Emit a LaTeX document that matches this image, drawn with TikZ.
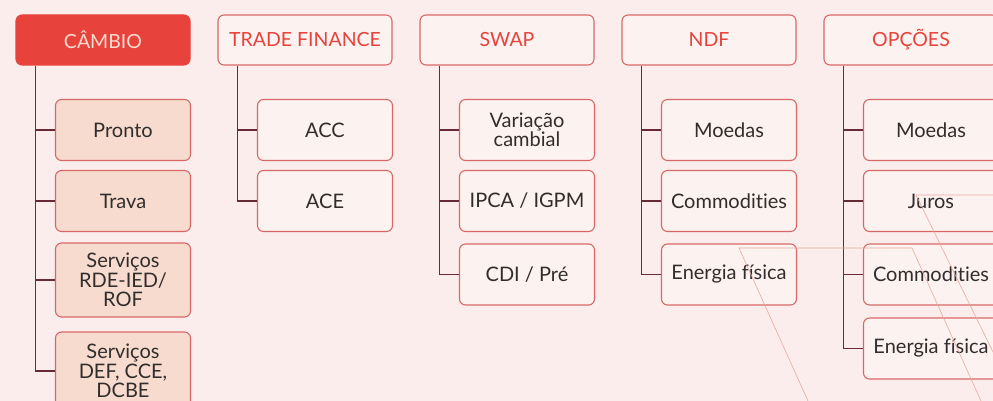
\documentclass[tikz,border=0pt]{standalone}
\usepackage{fontspec}
\setmainfont[Ligatures=NoCommon]{Lato}
\usetikzlibrary{positioning}

\definecolor{bgpink}{RGB}{250,237,235}
\definecolor{boxfill}{RGB}{252,242,240}
\definecolor{peach}{RGB}{247,219,206}
\definecolor{headred}{RGB}{232,66,60}
\definecolor{boxline}{RGB}{216,104,104}
\definecolor{trunkcol}{RGB}{104,42,52}
\definecolor{decocol}{RGB}{232,170,158}
\definecolor{textdark}{RGB}{50,45,45}
\definecolor{lighttext}{RGB}{252,220,205}

\begin{document}
\begin{tikzpicture}[x=1pt, y=1pt, node distance = 202pt, on grid,
  head/.style  = {draw=boxline, line width=1.1pt, rounded corners=6pt, fill=boxfill,
                  text=headred, minimum width=174pt, minimum height=50pt,
                  font=\fontsize{19.5}{21}\selectfont},
  leaf/.style  = {draw=boxline, line width=1.1pt, rounded corners=6pt, fill=boxfill,
                  text=textdark, minimum width=135pt, minimum height=61pt, align=center,
                  inner sep=2pt, font=\fontsize{20}{19.5}\selectfont},
  peachleaf/.style = {leaf, fill=peach},
  trunk/.style = {draw=trunkcol, line width=1.6pt},
  deco/.style  = {draw=decocol, line width=0.6pt}]

  % Canvas
  \fill[bgpink] (0,0) rectangle (993,-401);
  \useasboundingbox (0,0) rectangle (993,-401);

  % Header row
  \node[head, fill=headred, draw=headred, text=lighttext] (cambio) at (103,-40) {CÂMBIO};
  \node[head] (trade)  [right=of cambio] {TRADE FINANCE};
  \node[head] (swap)   [right=of trade]  {SWAP};
  \node[head] (ndf)    [right=of swap]   {NDF};
  \node[head] (opcoes) [right=of ndf]    {OPÇÕES};

  % Câmbio
  \node[peachleaf] (pronto) [below right=90pt and 20pt of cambio] {Pronto};
  \node[peachleaf] (trava)  [below=71pt of pronto] {Trava};
  \node[peachleaf, minimum height=74pt] (rdeied) [below=79pt of trava] {Serviços\\RDE-IED/\\ROF};
  \node[peachleaf, minimum height=78pt] (defcce) [below=91pt of rdeied] {Serviços\\DEF, CCE,\\DCBE};

  % Trade finance
  \node[leaf] (acc) [below right=90pt and 20pt of trade] {ACC};
  \node[leaf] (ace) [below=71pt of acc] {ACE};

  % Swap
  \node[leaf] (varcamb) [below right=90pt and 20pt of swap] {Variação\\cambial};
  \node[leaf] (ipca)    [below=71pt of varcamb] {IPCA / IGPM};
  \node[leaf] (cdipre)  [below=73.5pt of ipca]  {CDI / Pré};

  % NDF
  \node[leaf] (ndfmoedas)  [below right=90pt and 20pt of ndf] {Moedas};
  \node[leaf] (ndfcommod)  [below=71pt of ndfmoedas] {Commodities};
  \node[leaf] (ndfenergia) [below=73.5pt of ndfcommod] {Energia física};

  % Opções
  \node[leaf] (opmoedas)  [below right=90pt and 20pt of opcoes] {Moedas};
  \node[leaf] (opjuros)   [below=71pt of opmoedas] {Juros};
  \node[leaf] (opcommod)  [below=73.5pt of opjuros] {Commodities};
  \node[leaf] (openergia) [below=74pt of opcommod] {Energia física};

  % Trunks
  \path[trunk] ([xshift=20pt]cambio.south west) |- (pronto.west)
               ([xshift=20pt]cambio.south west) |- (trava.west)
               ([xshift=20pt]cambio.south west) |- (rdeied.west)
               ([xshift=20pt]cambio.south west) |- (defcce.west)
               ([xshift=20pt]trade.south west)  |- (acc.west)
               ([xshift=20pt]trade.south west)  |- (ace.west)
               ([xshift=20pt]swap.south west)   |- (varcamb.west)
               ([xshift=20pt]swap.south west)   |- (ipca.west)
               ([xshift=20pt]swap.south west)   |- (cdipre.west)
               ([xshift=20pt]ndf.south west)    |- (ndfmoedas.west)
               ([xshift=20pt]ndf.south west)    |- (ndfcommod.west)
               ([xshift=20pt]ndf.south west)    |- (ndfenergia.west)
               ([xshift=20pt]opcoes.south west) |- (opmoedas.west)
               ([xshift=20pt]opcoes.south west) |- (opjuros.west)
               ([xshift=20pt]opcoes.south west) |- (opcommod.west)
               ([xshift=20pt]opcoes.south west) |- (openergia.west);

  % Faint background strokes
  \draw[deco] (808,-401) -- (739,-248) -- (912,-248) -- (981,-401);
  \draw[deco] (993,-195) -- (916,-195) -- (993,-352);
\end{tikzpicture}
\end{document}
